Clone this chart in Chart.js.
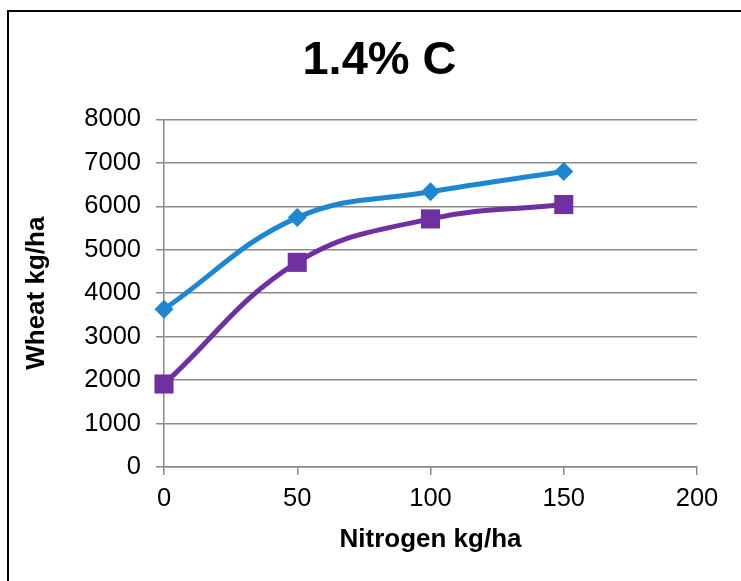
<!DOCTYPE html>
<html>
<head>
<meta charset="utf-8">
<script src="https://cdn.jsdelivr.net/npm/chart.js@4"></script>
<style>
	html, body { margin: 0; padding: 0; background: #fff; overflow: hidden; }
	#wrap { position: relative; width: 741px; height: 581px; }
	#frame { position: absolute; left: 7px; top: 10px; width: 780px; height: 620px; border: 2px solid #000; }
	#Graphe1 { position: absolute; left: 0; top: 0; }
</style>
</head>
<body>
<div id="wrap">
	<div id="frame"></div>
	<canvas id="Graphe1" width="741" height="581"></canvas>
</div>
<script>
// chart values
const nitrogen = [0, 50, 100, 150];
const wheatBlue = [3630, 5740, 6335, 6800];
const wheatPurple = [1910, 4710, 5710, 6040];
const xTicks = [0, 50, 100, 150, 200];
const yTicks = [0, 1000, 2000, 3000, 4000, 5000, 6000, 7000, 8000];

document.addEventListener('DOMContentLoaded', function () {

	'use strict';

	var police = 'Liberation Sans, Arial, sans-serif';
	var gris = '#898989';

	function points(values) {
		return nitrogen.map(function (n, i) {
			return { x: n, y: values[i] };
		});
	}

	// the title sits a bit right of the canvas centre in the reference
	var decaleTitre = {
		id: 'decaleTitre',
		afterLayout: function (chart) {
			chart.titleBlock.left += 31;
			chart.titleBlock.right += 31;
		}
	};

	var chart = new Chart(document.getElementById('Graphe1'), {
		type: 'line',
		data: {
			datasets: [
				{
					label: 'blue',
					data: points(wheatBlue),
					borderColor: '#1E87CF',
					backgroundColor: '#1E87CF',
					borderWidth: 5,
					tension: 0.4,
					clip: false,
					pointStyle: 'rectRot',
					pointRadius: 9.5,
					pointBorderWidth: 0,
				},
				{
					label: 'purple',
					data: points(wheatPurple),
					borderColor: '#7030A0',
					backgroundColor: '#7030A0',
					borderWidth: 5,
					tension: 0.4,
					clip: false,
					pointStyle: 'rect',
					pointRadius: 13.5,
					pointBorderWidth: 0,
				},
			],
		},
		plugins: [decaleTitre],
		options: {
			responsive: false,
			animation: false,
			layout: {
				padding: { left: 0, right: 44, top: 0, bottom: 0 }
			},
			plugins: {
				legend: { display: false },
				tooltip: { enabled: false },
				title: {
					display: true,
					text: '1.4% C',
					color: '#000',
					font: { family: police, size: 47, weight: 'bold' },
					padding: { top: 33, bottom: 30 }
				}
			},
			scales: {
				x: {
					type: 'linear',
					min: 0,
					max: 200,
					afterBuildTicks: function (scale) {
						scale.ticks = xTicks.map(function (v) { return { value: v }; });
					},
					afterFit: function (scale) {
						scale.height = 114;
					},
					grid: {
						drawOnChartArea: false,
						drawTicks: true,
						tickLength: 8,
						color: gris,
						lineWidth: 1.5
					},
					border: { color: gris, width: 1.5 },
					ticks: {
						color: '#000',
						padding: 9,
						font: { family: police, size: 25.5 },
						callback: function (v) { return String(v); }
					},
					title: {
						display: true,
						text: 'Nitrogen kg/ha',
						color: '#000',
						font: { family: police, size: 26, weight: 'bold' },
						padding: { top: 0, bottom: 26 }
					}
				},
				y: {
					min: 0,
					max: 8000,
					afterBuildTicks: function (scale) {
						scale.ticks = yTicks.map(function (v) { return { value: v }; });
					},
					afterFit: function (scale) {
						scale.width = 164;
					},
					grid: {
						tickLength: 8,
						color: gris,
						lineWidth: 1.5
					},
					border: { color: gris, width: 1.5 },
					ticks: {
						color: '#000',
						padding: 15,
						font: { family: police, size: 25.5 },
						callback: function (v) { return String(v); }
					},
					title: {
						display: true,
						text: 'Wheat kg/ha',
						color: '#000',
						font: { family: police, size: 26, weight: 'bold' },
						padding: { top: 21, bottom: 0 }
					}
				}
			}
		}
	});
	chart.update();
});
</script>
</body>
</html>
